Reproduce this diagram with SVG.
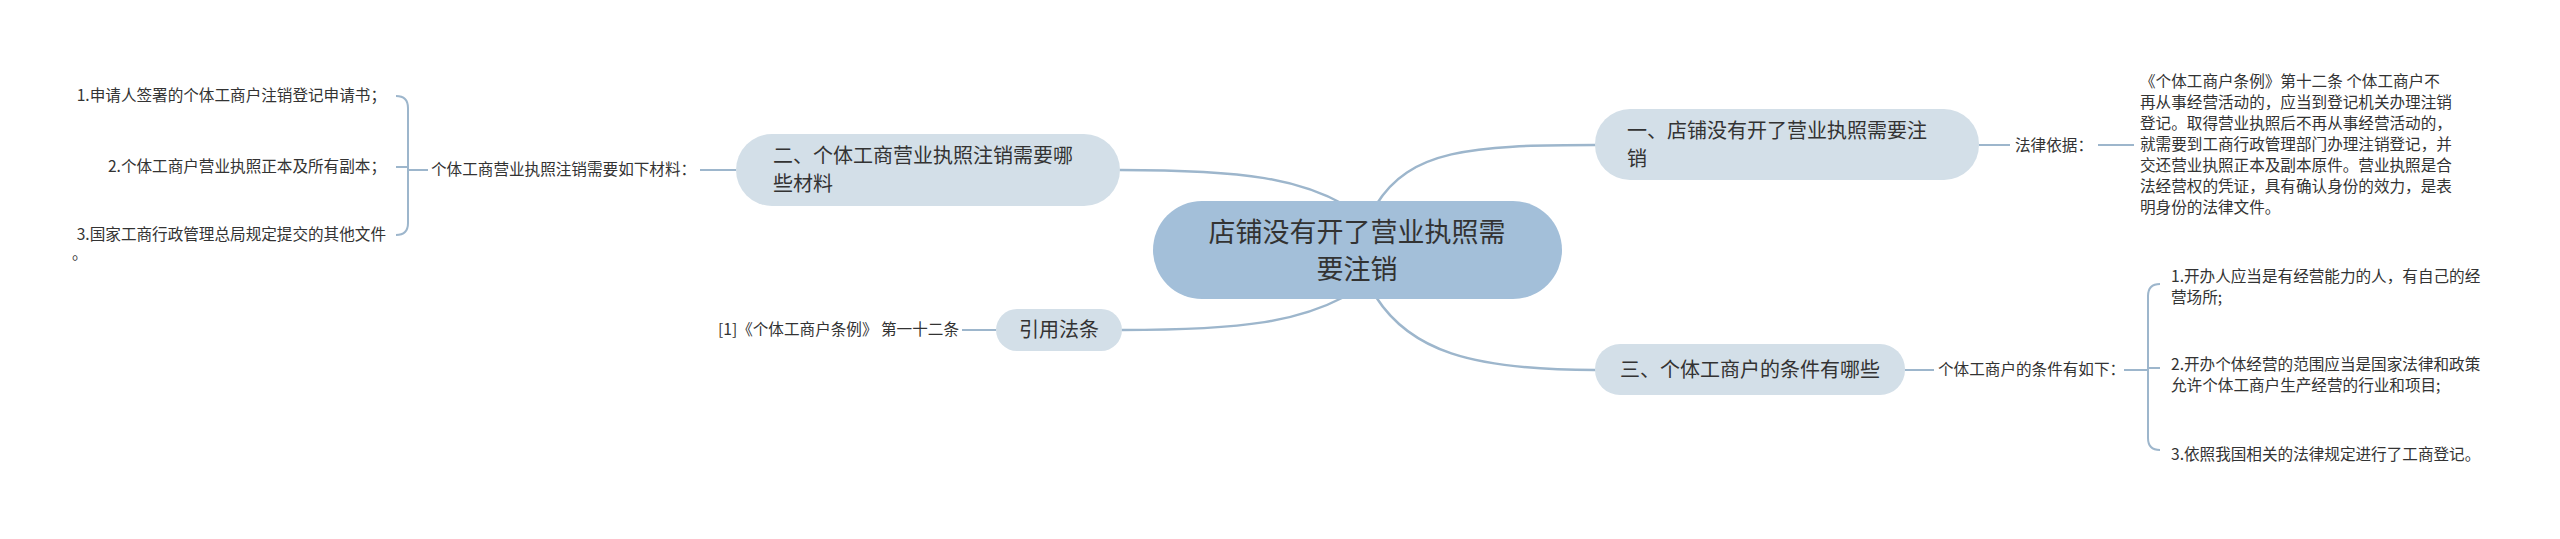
<svg xmlns="http://www.w3.org/2000/svg" width="2560" height="539" viewBox="0 0 2560 539">
<style>
text{font-family:"Microsoft YaHei","Noto Sans CJK SC","Noto Sans",sans-serif;fill:#333}
.c{fill:none;stroke:#9db6cc;stroke-width:2.5;stroke-linecap:round}
.s{fill:none;stroke:#9db6cc;stroke-width:2}
.main{fill:#a3bfd9}
.sub{fill:#d3dfe8}
.t27{font-size:27px}
.t20{font-size:20px}
.t15{font-size:15.6px}
</style>
<rect width="2560" height="539" fill="#fff"/>
<g id="connectors">
<path class="c" d="M1376 205 C1410 150 1470 145 1595 145"/>
<path class="c" d="M1345 205 C1300 180 1250 170 1120 170"/>
<path class="c" d="M1344 297 C1300 320 1250 330 1122 330"/>
<path class="c" d="M1376 297 C1410 350 1470 370 1595 370"/>
<path class="s" d="M1979 145 H2010 M2098 145 H2134"/>
<path class="s" d="M736 170 H700 M428 170 H408"/>
<path class="s" d="M396 96 Q408 96 408 108 V223 Q408 235 396 235 M396 167 H408"/>
<path class="s" d="M996 330 H962"/>
<path class="s" d="M1905 370 H1934 M2124 370 H2148"/>
<path class="s" d="M2160 284 Q2148 284 2148 296 V438 Q2148 450 2160 450 M2148 368 H2160"/>
</g>
<g id="center">
<rect class="main" x="1153" y="201" width="409" height="98" rx="49"/>
<text class="t27" x="1357" y="242" text-anchor="middle">店铺没有开了营业执照需</text>
<text class="t27" x="1357" y="279" text-anchor="middle">要注销</text>
</g>
<g id="n1">
<rect class="sub" x="1595" y="109" width="384" height="71" rx="35"/>
<text class="t20" x="1627" y="138">一、店铺没有开了营业执照需要注</text>
<text class="t20" x="1627" y="166">销</text>
</g>
<g id="n1a"><text class="t15" x="2015" y="151">法律依据：</text></g>
<g id="n1b">
<text class="t15" x="2140" y="87">《个体工商户条例》第十二条 个体工商户不</text>
<text class="t15" x="2140" y="108">再从事经营活动的，应当到登记机关办理注销</text>
<text class="t15" x="2140" y="129">登记。取得营业执照后不再从事经营活动的，</text>
<text class="t15" x="2140" y="150">就需要到工商行政管理部门办理注销登记，并</text>
<text class="t15" x="2140" y="171">交还营业执照正本及副本原件。营业执照是合</text>
<text class="t15" x="2140" y="192">法经营权的凭证，具有确认身份的效力，是表</text>
<text class="t15" x="2140" y="213">明身份的法律文件。</text>
</g>
<g id="n2">
<rect class="sub" x="736" y="134" width="384" height="72" rx="36"/>
<text class="t20" x="773" y="163">二、个体工商营业执照注销需要哪</text>
<text class="t20" x="773" y="191">些材料</text>
</g>
<g id="n2a"><text class="t15" x="431" y="175">个体工商营业执照注销需要如下材料：</text></g>
<g id="n2b">
<text class="t15" x="386" y="101" text-anchor="end">1.申请人签署的个体工商户注销登记申请书；</text>
<text class="t15" x="386" y="172" text-anchor="end">2.个体工商户营业执照正本及所有副本；</text>
<text class="t15" x="386" y="240" text-anchor="end">3.国家工商行政管理总局规定提交的其他文件</text>
<text class="t15" x="72" y="259">。</text>
</g>
<g id="n3">
<rect class="sub" x="996" y="309" width="126" height="42" rx="21"/>
<text class="t20" x="1059" y="337" text-anchor="middle">引用法条</text>
</g>
<g id="n3a"><text class="t15" x="959" y="335" text-anchor="end">[1]《个体工商户条例》 第一十二条</text></g>
<g id="n4">
<rect class="sub" x="1595" y="344" width="310" height="51" rx="25"/>
<text class="t20" x="1750" y="377" text-anchor="middle">三、个体工商户的条件有哪些</text>
</g>
<g id="n4a"><text class="t15" x="1938" y="375">个体工商户的条件有如下：</text></g>
<g id="n4b">
<text class="t15" x="2171" y="282">1.开办人应当是有经营能力的人，有自己的经</text>
<text class="t15" x="2171" y="303">营场所;</text>
<text class="t15" x="2171" y="370">2.开办个体经营的范围应当是国家法律和政策</text>
<text class="t15" x="2171" y="391">允许个体工商户生产经营的行业和项目;</text>
<text class="t15" x="2171" y="460">3.依照我国相关的法律规定进行了工商登记。</text>
</g>
</svg>
